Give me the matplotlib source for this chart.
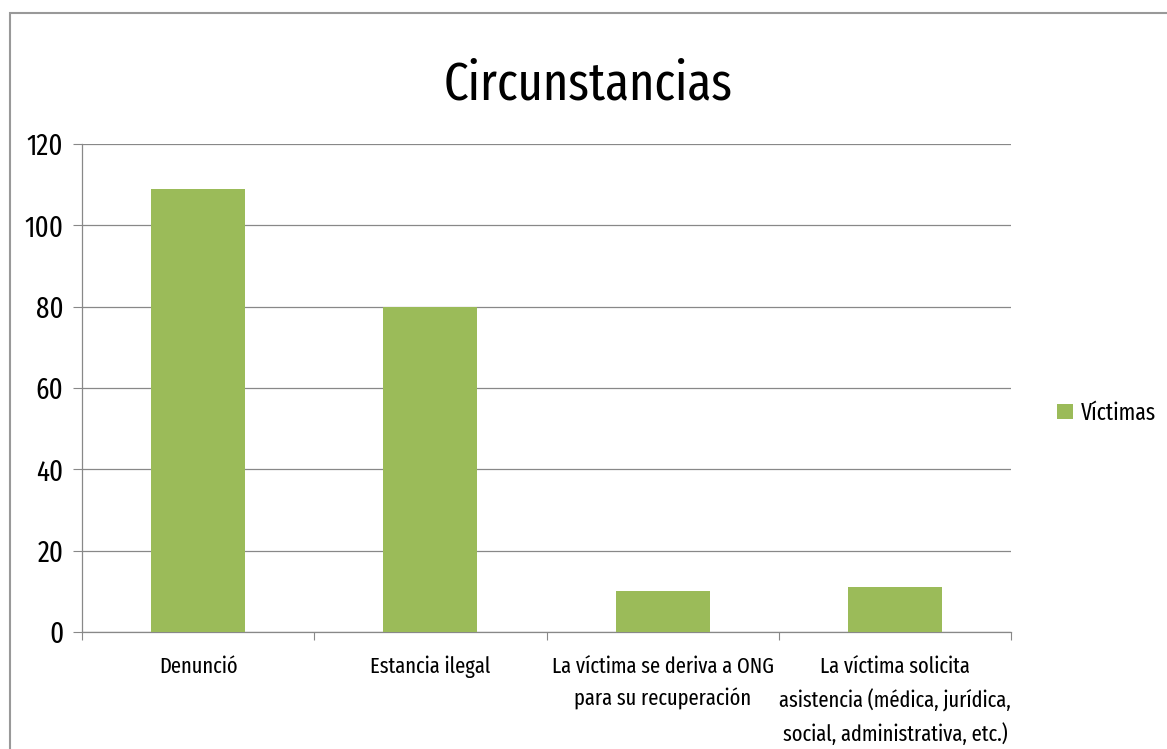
import matplotlib

matplotlib.use("Agg")
import matplotlib.pyplot as plt
from matplotlib.patches import Rectangle

CATEGORIES = [
    "Denunció",
    "Estancia ilegal",
    "La víctima se deriva a ONG\npara su recuperación",
    "La víctima solicita\nasistencia (médica, jurídica,\nsocial, administrativa, etc.)",
]
VICTIMAS = [109, 80, 10, 11]
Y_TICKS = [0, 20, 40, 60, 80, 100, 120]

GREEN = "#9BBB59"
GRID = "#888888"
FONT = ["Fira Sans Extra Condensed", "DejaVu Sans"]

plt.rcParams["font.family"] = FONT

fig = plt.figure(figsize=(11.67, 7.49), dpi=100)
ax = fig.add_axes([0.0703, 0.1562, 0.7960, 0.6515])

x = list(range(len(CATEGORIES)))
ax.bar(x, VICTIMAS, width=0.405, color=GREEN, label="Víctimas", zorder=3)

ax.set_xlim(-0.5, len(CATEGORIES) - 0.5)
ax.set_ylim(0, 120)
ax.set_yticks(Y_TICKS)
ax.set_yticklabels([str(v) for v in Y_TICKS], fontsize=21)
ax.yaxis.grid(True, color=GRID, linewidth=0.9, zorder=0)

# category labels centred, tick marks on category boundaries
ax.set_xticks([i - 0.5 for i in range(len(CATEGORIES) + 1)])
ax.set_xticklabels([])
ax.set_xticks(x, minor=True)
ax.set_xticklabels(CATEGORIES, minor=True, fontsize=16, linespacing=1.6, va="top")
ax.tick_params(axis="x", which="minor", length=0, pad=17)
ax.tick_params(axis="x", which="major", length=6, color=GRID, direction="out")
ax.tick_params(axis="y", length=6.5, color=GRID, direction="out", pad=7)

for side in ["top", "right"]:
    ax.spines[side].set_visible(False)
for side in ["left", "bottom"]:
    ax.spines[side].set_color(GRID)
    ax.spines[side].set_linewidth(0.9)

fig.text(0.504, 1 - 100 / 749, "Circunstancias", ha="center", va="baseline", fontsize=38)

ax.legend(loc="center left", bbox_to_anchor=(1048 / 1167, 1 - 413 / 749),
          bbox_transform=fig.transFigure, frameon=False, borderaxespad=0,
          fontsize=17, handlelength=0.65, handleheight=0.65, handletextpad=0.35)

fig.patches.append(Rectangle((10 / 1167, -0.1), 1.2, 1 - 13 / 749 + 0.1,
                             transform=fig.transFigure, fill=False,
                             edgecolor="#999999", linewidth=1.5))

fig.savefig("out.png", dpi=100)
